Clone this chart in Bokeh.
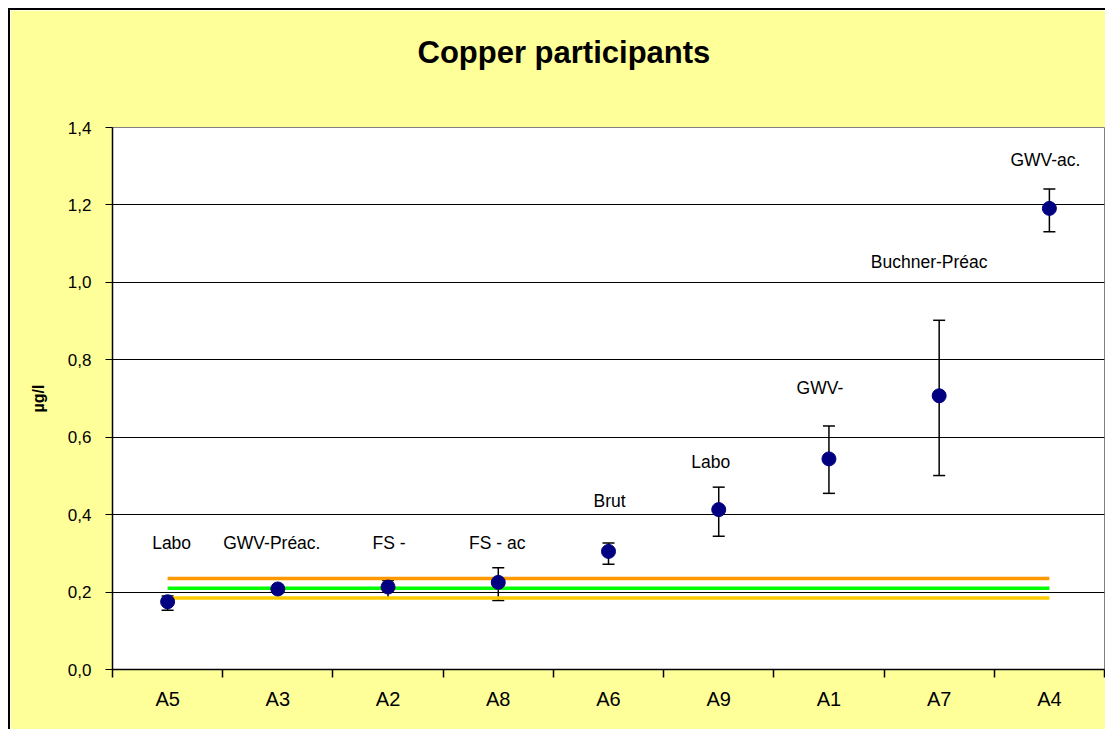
from bokeh.plotting import figure
from bokeh.models import (ColumnDataSource, Whisker, TeeHead, Range1d, FixedTicker,
                          CustomJSTickFormatter, Title)
from bokeh.core.properties import value
from bokeh.embed import file_html
from bokeh.resources import INLINE

# ---- data ----
categories = ["A5", "A3", "A2", "A8", "A6", "A9", "A1", "A7", "A4"]
means = [0.175, 0.208, 0.213, 0.225, 0.305, 0.413, 0.544, 0.707, 1.191]
upper = [0.190, 0.213, 0.230, 0.263, 0.327, 0.471, 0.629, 0.902, 1.241]
lower = [0.153, 0.203, 0.184, 0.178, 0.272, 0.344, 0.455, 0.501, 1.131]
labels = ["Labo", "GWV-Préac.", "FS -", "FS - ac", "Brut", "Labo", "GWV-",
          "Buchner-Préac", "GWV-ac."]
label_y = [0.327, 0.327, 0.327, 0.327, 0.434, 0.537, 0.727, 1.053, 1.317]
label_dx = [4, -6, 1, -1, 1, -8, -9, -10, -4]
ref_upper = 0.235   # orange
ref_value = 0.21    # green
ref_lower = 0.185   # yellow
y_ticks = [0.0, 0.2, 0.4, 0.6, 0.8, 1.0, 1.2, 1.4]
title_text = "Copper participants"

FONT = "Liberation Sans"
xs = [i + 0.5 for i in range(len(categories))]
bounds = list(range(len(categories) + 1))

src = ColumnDataSource(dict(x=xs, y=means, upper=upper, lower=lower))
lsrc = ColumnDataSource(dict(x=xs, y=label_y, text=labels, dx=label_dx))

p = figure(width=1097, height=721, output_backend="svg", toolbar_location=None,
           x_range=Range1d(0, len(categories)), y_range=Range1d(0, 1.4),
           min_border_left=102, min_border_right=3, min_border_top=117,
           min_border_bottom=62)
p.styles = {"margin-left": "8px", "margin-top": "8px",
            "border-left": "2px solid black", "border-top": "2px solid black"}

p.background_fill_color = "white"
p.border_fill_color = "#FFFF99"
p.outline_line_color = "#808080"
p.outline_line_width = 1

# title: an invisible spacer next to the plot area, the real title above it
p.title.text = ""
spacer = Title(text=" ", text_font_size="1px", standoff=55, text_color="#FFFF99")
p.add_layout(spacer, "above")
main_title = Title(text=title_text, align="left", vertical_align="bottom",
                   offset=305, standoff=0, text_font=FONT, text_font_size="31px",
                   text_font_style="bold", text_color="black")
p.add_layout(main_title, "above")

# grids
p.xgrid.grid_line_color = None
p.ygrid.grid_line_color = "black"
p.ygrid.grid_line_width = 1

# y axis
p.yaxis.ticker = FixedTicker(ticks=y_ticks)
p.yaxis.formatter = CustomJSTickFormatter(code="return tick.toFixed(1).replace('.', ',');")
p.yaxis.major_tick_out = 7
p.yaxis.major_tick_in = 0
p.yaxis.minor_tick_out = 0
p.yaxis.minor_tick_in = 0
p.yaxis.major_label_standoff = 14
p.yaxis.major_label_text_font = FONT
p.yaxis.major_label_text_font_size = "17px"
p.yaxis.major_label_text_color = "black"
p.yaxis.axis_line_color = "black"
p.yaxis.axis_line_width = 1.5
p.yaxis.major_tick_line_color = "black"
p.yaxis.axis_label = "µg/l"
p.yaxis.axis_label_text_font = FONT
p.yaxis.axis_label_text_font_size = "16px"
p.yaxis.axis_label_text_font_style = "bold"
p.yaxis.axis_label_text_color = "black"
p.yaxis.axis_label_standoff = 18

# x axis
p.xaxis.ticker = FixedTicker(ticks=xs, minor_ticks=bounds)
p.xaxis.formatter = CustomJSTickFormatter(args=dict(cats=categories),
                                          code="return cats[Math.floor(tick)];")
p.xaxis.major_tick_out = 0
p.xaxis.major_tick_in = 0
p.xaxis.minor_tick_out = 8
p.xaxis.minor_tick_in = 0
p.xaxis.minor_tick_line_color = "black"
p.xaxis.minor_tick_line_width = 1.5
p.xaxis.major_label_standoff = 10
p.xaxis.major_label_text_font = FONT
p.xaxis.major_label_text_font_size = "20px"
p.xaxis.major_label_text_color = "black"
p.xaxis.axis_line_color = "black"
p.xaxis.axis_line_width = 1.5

# error bars
w = Whisker(base="x", upper="upper", lower="lower", source=src,
            line_color="black", line_width=1.5, level="underlay",
            upper_head=TeeHead(size=12, line_color="black", line_width=1.5),
            lower_head=TeeHead(size=12, line_color="black", line_width=1.5))
p.add_layout(w)

# reference lines
x_ends = [xs[0], xs[-1]]
p.line(x_ends, [ref_upper, ref_upper], line_color="#FF9900", line_width=3.5)
p.line(x_ends, [ref_value, ref_value], line_color="#00FF00", line_width=3.5)
p.line(x_ends, [ref_lower, ref_lower], line_color="#FFCC00", line_width=3.5)

# points
p.scatter("x", "y", source=src, size=14, color="#000080")

# labels
p.text("x", "y", text="text", x_offset="dx", source=lsrc, text_align="center",
       text_baseline="middle", text_font=value(FONT), text_font_size="17.5px",
       text_color="black")

open("out.html", "w").write(file_html(p, INLINE))
